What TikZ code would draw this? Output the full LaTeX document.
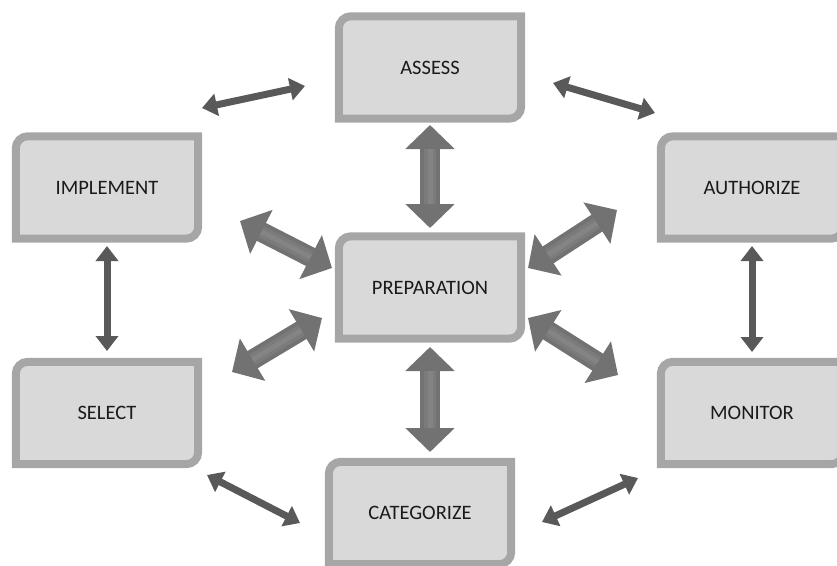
\documentclass[tikz,border=0pt]{standalone}
\usepackage{fontspec}
\setmainfont{Carlito}
\usetikzlibrary{arrows.meta,calc,backgrounds}
\definecolor{boxfill}{HTML}{D9D9D9}
\definecolor{boxline}{HTML}{A6A6A6}
\definecolor{thinarr}{HTML}{595959}
\definecolor{fatarr}{HTML}{727272}
\definecolor{fatmid}{HTML}{7B7B7B}
\definecolor{fatlight}{HTML}{848484}
\definecolor{txt}{HTML}{1A1A1A}
\begin{document}
\begin{tikzpicture}[x=1pt,y=-1pt,
  stepnode/.style={minimum width=182pt, minimum height=102pt, inner sep=0pt,
    text=txt, font=\fontsize{20.5}{24}\selectfont},
  boxshape/.style={fill=boxfill, draw=boxline, line width=8pt},
  thinarrow/.style={draw=thinarr, line width=7pt,
    {Triangle[width=22pt,length=15pt]}-{Triangle[width=22pt,length=15pt]}},
  fatarrow/.style={draw=fatarr, line width=20pt,
    {Triangle[width=48pt,length=24pt]}-{Triangle[width=48pt,length=24pt]}},
  fatshine/.style={draw=fatmid, line width=12pt, shorten <=24pt, shorten >=24pt},
  fatshine2/.style={draw=fatlight, line width=5pt, shorten <=24pt, shorten >=24pt}
]
\useasboundingbox (0,0) rectangle (837,565);

% nodes
\node[stepnode] (assess)    at (430,67.5)  {ASSESS};
\node[stepnode] (prep)      at (430,287.5) {PREPARATION};
\node[stepnode] (implement) at (107,187.5) {IMPLEMENT};
\node[stepnode] (select)    at (107,413)   {SELECT};
\node[stepnode] (authorize) at (752,187.5) {AUTHORIZE};
\node[stepnode] (monitor)   at (752,413)   {MONITOR};
\node[stepnode] (categ)     at (420,513)   {CATEGORIZE};

% box shapes behind the text
\begin{scope}[on background layer]
\foreach \n in {assess,prep,implement,select,authorize,monitor,categ}{
  \draw[boxshape] (\n.south west) -- ($(\n.north west)+(0,12)$)
    arc[start angle=180,end angle=270,radius=12]
    -- (\n.north east) -- ($(\n.south east)+(0,-12)$)
    arc[start angle=0,end angle=90,radius=12] -- cycle;
}
\end{scope}

% arrow end points
\coordinate (t1a) at ($(implement)+(95,-79.5)$);
\coordinate (t1b) at ($(assess)+(-125,18.5)$);
\coordinate (t2a) at ($(assess)+(123,15.5)$);
\coordinate (t2b) at ($(authorize)+(-97,-74.5)$);
\coordinate (t3a) at ($(implement)+(0,58.5)$);
\coordinate (t3b) at ($(select)+(0,-62)$);
\coordinate (t4a) at ($(authorize)+(0,58.5)$);
\coordinate (t4b) at ($(monitor)+(0,-61)$);
\coordinate (t5a) at ($(select)+(100,62)$);
\coordinate (t5b) at ($(categ)+(-120,10)$);
\coordinate (t6a) at ($(categ)+(122,9)$);
\coordinate (t6b) at ($(monitor)+(-114,65)$);

\coordinate (k1a) at ($(assess)+(0,57.5)$);
\coordinate (k1b) at ($(prep)+(0,-59.5)$);
\coordinate (k2a) at ($(prep)+(0,59.5)$);
\coordinate (k2b) at ($(categ)+(10,-61)$);
\coordinate (k3a) at ($(implement)+(133,33.5)$);
\coordinate (k3b) at ($(prep)+(-98,-19.5)$);
\coordinate (k4a) at ($(select)+(125,-41)$);
\coordinate (k4b) at ($(prep)+(-108,30.5)$);
\coordinate (k5a) at ($(prep)+(98,-19.5)$);
\coordinate (k5b) at ($(authorize)+(-135,22.5)$);
\coordinate (k6a) at ($(prep)+(98,30.5)$);
\coordinate (k6b) at ($(monitor)+(-134,-38)$);

% thin arrows
\foreach \i in {1,...,6}{
  \draw[thinarrow] (t\i a) -- (t\i b);
}
% thick arrows
\foreach \i in {1,...,6}{
  \draw[fatarrow] (k\i a) -- (k\i b);
  \draw[fatshine] (k\i a) -- (k\i b);
  \draw[fatshine2] (k\i a) -- (k\i b);
}
\end{tikzpicture}
\end{document}
